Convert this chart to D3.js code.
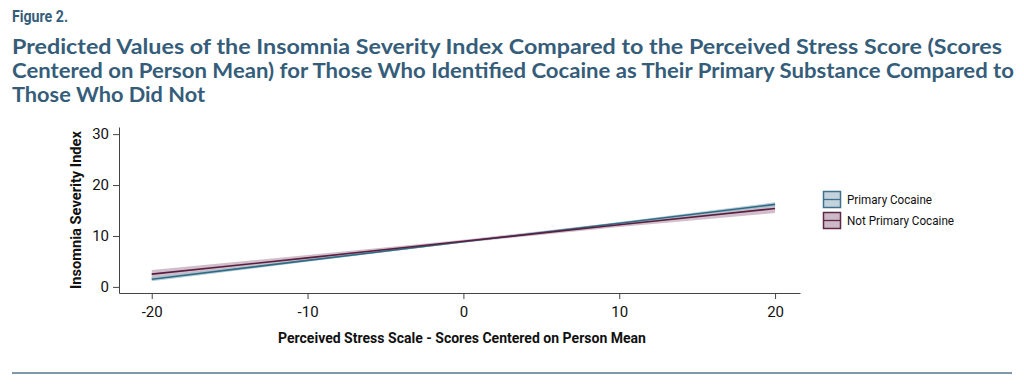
<!DOCTYPE html>
<html><head><meta charset="utf-8">
<script src="https://cdn.jsdelivr.net/npm/d3@7"></script>
<style>body{margin:0;background:#fff}svg{display:block}</style>
</head><body><svg id="c" width="1024" height="386"></svg>
<script>
const xTicks = [-20, -10, 0, 10, 20];
const yTicks = [0, 10, 20, 30];
const xs = [-20, -10, 0, 10, 20];
const series = ["Primary Cocaine", "Not Primary Cocaine"];
const primaryFit = [1.5, 5.2, 8.85, 12.5, 16.2];
const primaryLo  = [1.1, 4.95, 8.7, 12.3, 15.75];
const primaryHi  = [2.0, 5.45, 9.0, 12.75, 16.6];
const notPrimaryFit = [2.5, 5.7, 8.95, 12.2, 15.4];
const notPrimaryLo  = [1.7, 5.15, 8.65, 11.75, 14.5];
const notPrimaryHi  = [3.3, 6.25, 9.25, 12.65, 16.4];

const svg = d3.select("#c");
const titleColor = "#355d7a";
const narrow = "'Roboto','Noto Sans',sans-serif";

svg.append("text").attr("x", 12).attr("y", 22).attr("fill", titleColor)
  .attr("font-family", narrow).attr("font-weight", "bold").attr("font-size", 16)
  .attr("textLength", 56).attr("lengthAdjust", "spacingAndGlyphs")
  .text("Figure 2.");
const titleLines = [
  ["Predicted Values of the Insomnia Severity Index Compared to the Perceived Stress Score (Scores", 990],
  ["Centered on Person Mean) for Those Who Identified Cocaine as Their Primary Substance Compared to", 1002],
  ["Those Who Did Not", 193]
];
titleLines.forEach((l, i) => {
  svg.append("text").attr("x", 12).attr("y", 54 + i * 24).attr("fill", titleColor)
    .attr("font-family", "Lato,'Open Sans',sans-serif").attr("font-weight", "bold").attr("font-size", 20)
    .attr("textLength", l[1]).attr("lengthAdjust", "spacingAndGlyphs")
    .text(l[0]);
});

const x = d3.scaleLinear().domain([-22.1, 21.6]).range([119, 800]);
const y = d3.scaleLinear().domain([-1.2, 31.4]).range([293, 127]);
const fmt = d => String(d);

const xAxis = svg.append("g").attr("transform", "translate(0,293)")
  .call(d3.axisBottom(x).tickValues(xTicks).tickFormat(fmt).tickSize(6).tickSizeOuter(0).tickPadding(7));
const yAxis = svg.append("g").attr("transform", "translate(119,0)")
  .call(d3.axisLeft(y).tickValues(yTicks).tickFormat(fmt).tickSize(6).tickSizeOuter(0).tickPadding(4));
[xAxis, yAxis].forEach(a => {
  a.selectAll("path,line").attr("stroke", "#444").attr("stroke-width", 1);
  a.selectAll("text").attr("font-family", narrow).attr("font-size", 15).attr("fill", "#111");
});

const band = (lo, hi) => d3.area().x((d, i) => x(xs[i])).y0((d, i) => y(lo[i])).y1((d, i) => y(hi[i]));
const line = d3.line().x((d, i) => x(xs[i])).y(d => y(d));

svg.append("path").datum(xs).attr("d", band(notPrimaryLo, notPrimaryHi)).attr("fill", "#c9b3c2").attr("opacity", 0.85);
svg.append("path").datum(xs).attr("d", band(primaryLo, primaryHi)).attr("fill", "#a9c2cf").attr("opacity", 0.8);
svg.append("path").datum(primaryFit).attr("d", line).attr("stroke", "#2f6b82").attr("stroke-width", 1.6).attr("fill", "none");
svg.append("path").datum(notPrimaryFit).attr("d", line).attr("stroke", "#5a1f40").attr("stroke-width", 1.6).attr("fill", "none");

svg.append("text").attr("transform", `translate(81,210) rotate(-90)`).attr("text-anchor", "middle")
  .attr("font-family", narrow).attr("font-weight", "bold").attr("font-size", 14.5).attr("fill", "#111")
  .attr("textLength", 158).attr("lengthAdjust", "spacingAndGlyphs")
  .text("Insomnia Severity Index");
svg.append("text").attr("x", 462).attr("y", 343).attr("text-anchor", "middle")
  .attr("font-family", narrow).attr("font-weight", "bold").attr("font-size", 14).attr("fill", "#111")
  .attr("textLength", 368).attr("lengthAdjust", "spacingAndGlyphs")
  .text("Perceived Stress Scale - Scores Centered on Person Mean");

const legFill = ["#c3d2dc", "#cdb9c6"];
const legStroke = ["#3f7189", "#5e2846"];
const legLen = [85, 107];
series.forEach((s, i) => {
  const g = svg.append("g").attr("transform", `translate(823,${191 + i * 21})`);
  g.append("rect").attr("x", 0.5).attr("y", 0.5).attr("width", 17).attr("height", 16)
    .attr("fill", legFill[i]).attr("stroke", legStroke[i]).attr("stroke-width", 1.5);
  g.append("line").attr("x1", 0.5).attr("x2", 17.5).attr("y1", 8.5).attr("y2", 8.5)
    .attr("stroke", legStroke[i]).attr("stroke-width", 1.3);
  g.append("text").attr("x", 24).attr("y", 13).attr("font-family", narrow).attr("font-size", 13.5)
    .attr("textLength", legLen[i]).attr("lengthAdjust", "spacingAndGlyphs")
    .attr("fill", "#111").text(s);
});

svg.append("line").attr("x1", 12).attr("x2", 1012).attr("y1", 373).attr("y2", 373)
  .attr("stroke", "#7f98aa").attr("stroke-width", 2);
</script></body></html>
